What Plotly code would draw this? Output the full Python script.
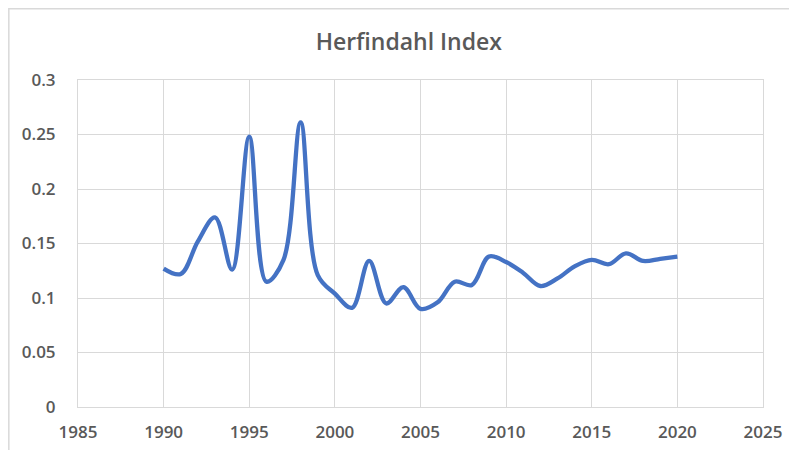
import plotly.graph_objects as go

# ---------------------------------------------------------
# Données : indice de Herfindahl par année
# ---------------------------------------------------------
annees = list(range(1990, 2021))
herfindahl = [
    0.127, 0.122, 0.152, 0.174, 0.126, 0.248, 0.115, 0.135, 0.261, 0.121,
    0.104, 0.091, 0.134, 0.095, 0.110, 0.090, 0.096, 0.115, 0.112, 0.138,
    0.133, 0.123, 0.111, 0.118, 0.129, 0.135, 0.131, 0.141, 0.134, 0.136,
    0.138,
]

x_ticks = list(range(1985, 2026, 5))
y_ticks = [0, 0.05, 0.1, 0.15, 0.2, 0.25, 0.3]

GRIS_TEXTE = "#595959"
GRIS_GRILLE = "#d9d9d9"
BLEU = "#4472C4"

# ---------------------------------------------------------
# Graphique
# (la page ajoute une marge de 8 px autour de la figure)
# ---------------------------------------------------------
fig = go.Figure()
fig.add_trace(go.Scatter(
    x=annees,
    y=herfindahl,
    mode="lines",
    line=dict(color=BLEU, width=4.3, shape="spline", smoothing=1),
    showlegend=False,
))

fig.update_layout(
    width=789,
    height=442,
    paper_bgcolor="white",
    plot_bgcolor="white",
    margin=dict(l=70, r=34, t=72, b=43, autoexpand=False),
    title=dict(
        text="Herfindahl Index",
        x=0.508, xanchor="center",
        y=0.923, yanchor="middle",
        font=dict(family="Open Sans", size=23, color=GRIS_TEXTE, weight=600),
    ),
    font=dict(family="Open Sans", color=GRIS_TEXTE),
    xaxis=dict(
        range=[1985, 2025],
        tickvals=x_ticks,
        automargin=False,
        showgrid=True, gridcolor=GRIS_GRILLE, gridwidth=1,
        showline=True, linecolor=GRIS_GRILLE, mirror=True,
        zeroline=False,
        ticks="", ticklabelstandoff=10,
        tickfont=dict(size=17, color=GRIS_TEXTE, weight=600),
    ),
    yaxis=dict(
        range=[0, 0.3],
        tickvals=y_ticks,
        ticktext=[f"{v:g}" for v in y_ticks],
        automargin=False,
        showgrid=True, gridcolor=GRIS_GRILLE, gridwidth=1,
        showline=True, linecolor=GRIS_GRILLE, mirror=True,
        zeroline=False,
        ticks="", ticklabelstandoff=18,
        tickfont=dict(size=17, color=GRIS_TEXTE, weight=600),
    ),
)

# cadre du graphique (bords gauche et haut)
fig.add_shape(
    type="rect", xref="paper", yref="paper",
    x0=-0.101, x1=1.2, y0=-0.3, y1=1.218,
    line=dict(color=GRIS_GRILLE, width=1.5),
    layer="below",
)

fig.write_html("out.html")
